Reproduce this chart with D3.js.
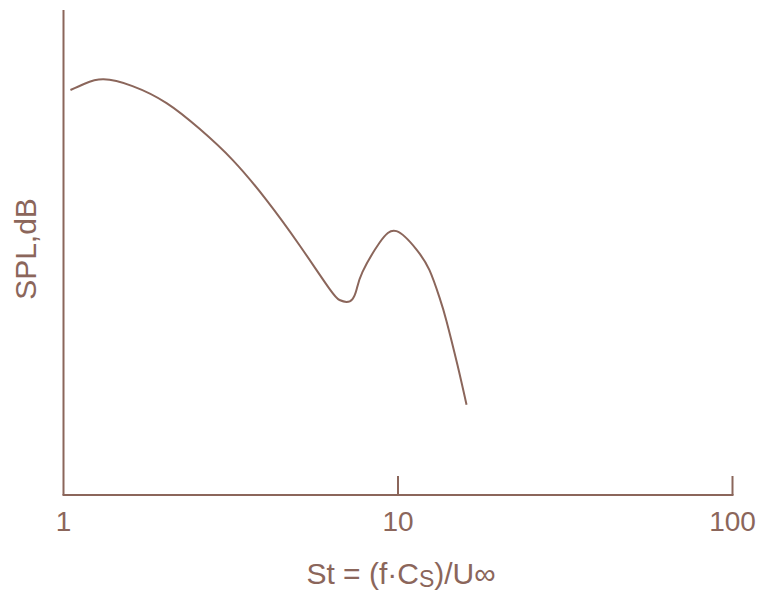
<!DOCTYPE html>
<html>
<head>
<meta charset="utf-8">
<script src="https://cdn.jsdelivr.net/npm/d3@7"></script>
<style>
body { margin: 0; background: #fff; }
text { font-family: "Liberation Sans", Arial, sans-serif; fill: #8b665b; }
</style>
</head>
<body>
<svg id="chart" width="761" height="593"></svg>
<script>
const stValues = [1.049, 1.156, 1.317, 1.608, 2.033, 2.551, 3.201, 4.045, 5.077, 6.241, 6.686, 7.015, 7.311, 7.515, 7.833, 8.805, 9.897, 11.36, 12.42, 13.31, 13.96, 15.06, 16.03];
const splValues = [83.5, 84.8, 85.7, 84.3, 80.8, 75.5, 69.1, 60.8, 51.5, 42.5, 40.2, 39.8, 40.4, 42.3, 46.0, 52.0, 54.4, 50.6, 46.35, 40.7, 35.9, 26.8, 18.6];
const xTicks = [1, 10, 100];
const xTickLabels = ["1", "10", "100"];

const color = "#8b665b";
const svg = d3.select("#chart");
const mLeft = 63.5, mRight = 732.5, mTop = 10, mBottom = 495;

const x = d3.scaleLog().domain([1, 100]).range([mLeft, mRight]);
const y = d3.scaleLinear().domain([0, 100]).range([mBottom, mTop]);

// axes lines
svg.append("line").attr("x1", mLeft).attr("x2", mLeft).attr("y1", mTop).attr("y2", mBottom)
  .attr("stroke", color).attr("stroke-width", 2);
svg.append("line").attr("x1", mLeft - 1).attr("x2", mRight + 1).attr("y1", mBottom).attr("y2", mBottom)
  .attr("stroke", color).attr("stroke-width", 2);

// ticks (upward)
xTicks.slice(1).forEach(t => {
  svg.append("line").attr("x1", x(t)).attr("x2", x(t)).attr("y1", mBottom).attr("y2", mBottom - 19)
    .attr("stroke", color).attr("stroke-width", 2);
});
xTicks.forEach((t, i) => {
  svg.append("text").attr("x", x(t)).attr("y", 531).attr("text-anchor", "middle")
    .attr("font-size", 28).text(xTickLabels[i]);
});

// curve
const data = stValues.map((s, i) => [s, splValues[i]]);
const line = d3.line().x(d => x(d[0])).y(d => y(d[1])).curve(d3.curveNatural);
svg.append("path").datum(data).attr("d", line).attr("fill", "none")
  .attr("stroke", color).attr("stroke-width", 2);

// x label
const xl = svg.append("text").attr("x", 401).attr("y", 584).attr("text-anchor", "middle").attr("font-size", 30);
xl.append("tspan").text("St = (f·C");
xl.append("tspan").attr("font-size", 23).attr("dy", 3).text("S");
xl.append("tspan").attr("dy", -3).text(")/U∞");

// y label
svg.append("text").attr("transform", "translate(36,249) rotate(-90)").attr("text-anchor", "middle")
  .attr("font-size", 30).text("SPL,dB");
</script>
</body>
</html>
